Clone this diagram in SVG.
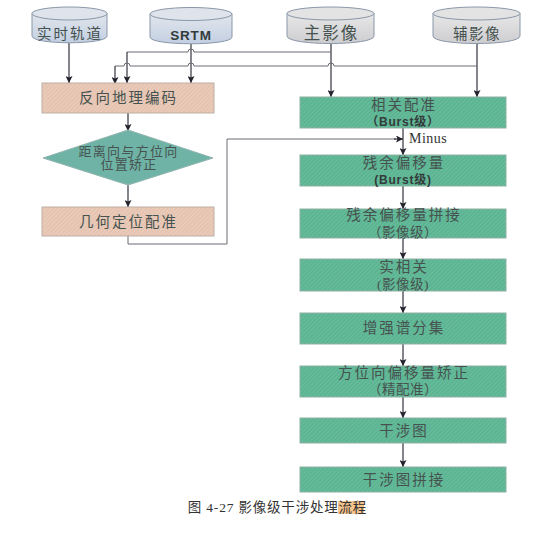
<svg xmlns="http://www.w3.org/2000/svg" width="542" height="548" viewBox="0 0 542 548">
<defs>
<marker id="arr" markerUnits="userSpaceOnUse" markerWidth="8" markerHeight="7" refX="7" refY="3.5" orient="auto"><path d="M0 0L7 3.5L0 7L1.5 3.5Z" fill="#23232e"/></marker>
<linearGradient id="cyl" x1="0" x2="0" y1="0" y2="1"><stop offset="0" stop-color="#e2e6ec"/><stop offset="1" stop-color="#c2cfe2"/></linearGradient>
<linearGradient id="cylg" x1="0" x2="0" y1="0" y2="1"><stop offset="0" stop-color="#e8e8e8"/><stop offset="1" stop-color="#cdcdd0"/></linearGradient>
<pattern id="hg" width="3" height="3" patternUnits="userSpaceOnUse" patternTransform="rotate(45)"><rect width="3" height="3" fill="#5bb492"/><rect width="1" height="3" fill="#6abd9d"/></pattern>
<pattern id="hp" width="3" height="3" patternUnits="userSpaceOnUse" patternTransform="rotate(45)"><rect width="3" height="3" fill="#e5c3b0"/><rect width="1" height="3" fill="#ebcebd"/></pattern>
</defs>
<style>
text{font-family:"Liberation Serif","Noto Sans CJK SC",serif;fill:#46524f;text-anchor:middle;font-size:14.500px}
.s{letter-spacing:2px}
.m{font-size:13.500px;letter-spacing:.5px}
.d{font-size:13px;letter-spacing:1.300px}
.l{font-family:"Liberation Sans","Noto Sans CJK SC",sans-serif;font-size:12px;font-weight:bold;fill:#333b3b;letter-spacing:.8px}
.p{fill:url(#hp);stroke:#bdaea4}
.g{fill:url(#hg);stroke:#8fb0a3}
.c{stroke:#8a97a8;stroke-width:1}
.ar{fill:none;stroke:#33333f;stroke-width:1.2;marker-end:url(#arr)}
.thin{fill:none;stroke:#6a6a74;stroke-width:1}
</style>
<g id="connectors">
<path class="ar" d="M69 43V83"/>
<path class="ar" d="M191 44V83"/>
<path class="ar" d="M331 43V97"/>
<path class="ar" d="M477 43V97"/>
<path class="thin" d="M331 52H194A3 3 0 0 0 188 52H127"/>
<path class="ar" d="M127 52V83"/>
<path class="thin" d="M477 66H334A3 3 0 0 0 328 66H194A3 3 0 0 0 188 66H130A3 3 0 0 0 124 66H115"/>
<path class="ar" d="M115 66V84"/>
<path class="ar" d="M128 113V131"/>
<path class="ar" d="M128 185V207"/>
<path class="thin" d="M128 236V244H227V139H396"/>
<path class="ar" d="M394 139H403"/>
<path class="ar" d="M403 128V155"/>
<path class="ar" d="M403 186V209"/>
<path class="ar" d="M403 238V259"/>
<path class="ar" d="M403 291V313"/>
<path class="ar" d="M403 344V366"/>
<path class="ar" d="M403 397V418"/>
<path class="ar" d="M403 443V467"/>
</g>
<g id="orbit"><path class="c" fill="url(#cyl)" d="M32 13V36C32 45 107 45 107 36V13Z"/><ellipse class="c" cx="69.500" cy="13.500" rx="37.500" ry="6.500" fill="#dfe4ec"/><text class="s" x="70" y="39">实时轨道</text></g>
<g id="srtm"><path class="c" fill="url(#cyl)" d="M150 14V37C150 46 232 46 232 37V14Z"/><ellipse class="c" cx="191" cy="14" rx="41" ry="6.500" fill="#dfe4ec"/><text class="l" x="191" y="40" style="font-size:13.500px">SRTM</text></g>
<g id="master"><path class="c" fill="url(#cylg)" d="M287 13V36C287 46 374 46 374 36V13Z"/><ellipse class="c" cx="330.500" cy="13.500" rx="43.500" ry="6.500" fill="#e3e3e3"/><text x="331.500" y="39" style="font-size:16.500px;letter-spacing:2px">主影像</text></g>
<g id="slave"><path class="c" fill="url(#cylg)" d="M433 13V36C433 46 520 46 520 36V13Z"/><ellipse class="c" cx="476.500" cy="13.500" rx="43.500" ry="6.500" fill="#e3e3e3"/><text x="477" y="39" style="font-size:14.500px;letter-spacing:1.500px">辅影像</text></g>
<g id="rgeo"><rect class="p" x="42" y="83" width="172" height="30"/><text class="s" x="128.500" y="103">反向地理编码</text></g>
<g id="dia"><path fill="#6fb3a6" stroke="#8fb5ae" d="M128 130L213 158L128 185L43 158Z"/><text class="d" x="128.500" y="155.500">距离向与方位向</text><text class="d" x="129" y="169">位置矫正</text></g>
<g id="geo"><rect class="p" x="42" y="207" width="172" height="29"/><text class="s" x="128.500" y="226.500">几何定位配准</text></g>
<g id="coreg"><rect class="g" x="300" y="97" width="206" height="31"/><text class="s" x="404" y="110">相关配准</text><text class="l" x="403" y="125.500">（Burst级）</text></g>
<g id="residual"><rect class="g" x="300" y="155" width="206" height="31"/><text class="s" x="404" y="168">残余偏移量</text><text class="l" x="403" y="183.500">(Burst级)</text></g>
<g id="stitch"><rect class="g" x="300" y="209" width="206" height="29"/><text class="s" x="404" y="220">残余偏移量拼接</text><text class="m" x="403" y="236.500">（影像级）</text></g>
<g id="realcorr"><rect class="g" x="300" y="259" width="206" height="32"/><text class="s" x="404" y="272">实相关</text><text class="m" x="403" y="288.500">(影像级)</text></g>
<g id="esd"><rect class="g" x="300" y="313" width="206" height="31"/><text class="s" x="404" y="333">增强谱分集</text></g>
<g id="az"><rect class="g" x="300" y="366" width="206" height="31"/><text class="s" x="404" y="378">方位向偏移量矫正</text><text class="m" x="403" y="394">（精配准）</text></g>
<g id="ifg"><rect class="g" x="300" y="418" width="206" height="25"/><text class="s" x="404" y="436">干涉图</text></g>
<g id="ifgs"><rect class="g" x="300" y="467" width="206" height="25"/><text class="s" x="404" y="484.500">干涉图拼接</text></g>
<text x="409" y="143" style="text-anchor:start;font-size:14px;letter-spacing:.5px;fill:#333">Minus</text>
<rect x="338" y="501" width="26" height="13" fill="#f6c48c"/>
<text x="277.500" y="512" style="font-size:13.500px;fill:#333;letter-spacing:.8px">图 4-27 影像级干涉处理流程</text>
</svg>
